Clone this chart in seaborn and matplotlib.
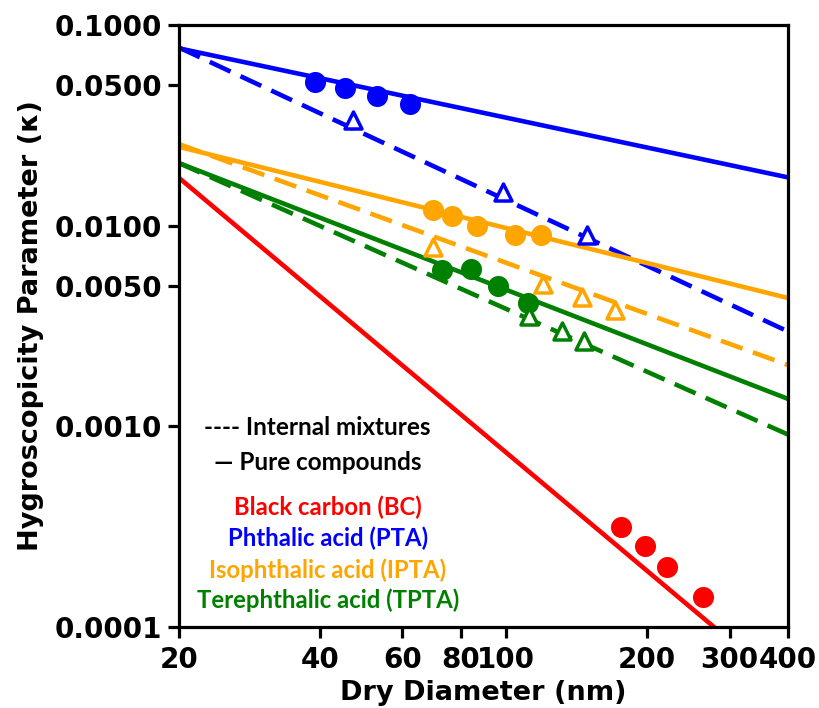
import numpy as np
import pandas as pd
import matplotlib
matplotlib.use('Agg')
import matplotlib.pyplot as plt
from matplotlib.ticker import NullLocator
import seaborn as sns

# ДАННЫЕ

# концы линий (D = 20 и 400 нм)
line_d = [20, 400]
pta_pure = [0.0765, 0.0174]
pta_mix = [0.0772, 0.00297]
ipta_pure = [0.0247, 0.00436]
ipta_mix = [0.0255, 0.00202]
tpta_pure = [0.0205, 0.00137]
tpta_mix = [0.0205, 0.00091]
bc_pure = [0.0173, 0.000049]

# точки: чистые вещества (кружки)
pta_d = [39.0, 45.3, 53.0, 62.3]
pta_k = [0.052, 0.0486, 0.0443, 0.0404]
ipta_d = [69.8, 76.6, 86.7, 104.5, 118.7]
ipta_k = [0.0120, 0.0112, 0.0100, 0.0090, 0.0090]
tpta_d = [72.9, 84.1, 96.1, 111.4]
tpta_k = [0.0060, 0.0061, 0.0050, 0.0041]
bc_d = [176, 198, 221, 263]
bc_k = [0.000315, 0.000254, 0.000199, 0.000141]

# точки: внутренние смеси (треугольники)
pta_mix_d = [47.1, 98.5, 148.9]
pta_mix_k = [0.0336, 0.0147, 0.0090]
ipta_mix_d = [69.8, 120.0, 145.2, 170.9]
ipta_mix_k = [0.0078, 0.0051, 0.0044, 0.0038]
tpta_mix_d = [111.9, 131.6, 146.7]
tpta_mix_k = [0.00355, 0.00299, 0.00266]

x_ticks = [20, 40, 60, 80, 100, 200, 300, 400]
y_ticks = [0.0001, 0.001, 0.005, 0.01, 0.05, 0.1]
y_labels = ['0.0001', '0.0010', '0.0050', '0.0100', '0.0500', '0.1000']

labels = ['Black carbon (BC)', 'Phthalic acid (PTA)',
          'Isophthalic acid (IPTA)', 'Terephthalic acid (TPTA)']
# _________________________________________________

sns.set_theme(style='ticks')
plt.rcParams['font.family'] = ['DejaVu Sans']
plt.rcParams['text.color'] = 'black'
plt.rcParams['axes.labelcolor'] = 'black'
plt.rcParams['xtick.color'] = 'black'
plt.rcParams['ytick.color'] = 'black'

RED, BLUE, ORANGE, GREEN = '#ff0000', '#0000ff', '#ffa500', '#008000'
DASH = (0, (5, 2.4))

fig = plt.figure(figsize=(8.2, 7.08), dpi=100)
ax = fig.add_axes([0.2183, 0.1144, 0.7427, 0.8503])

lines = [
    (pta_pure, BLUE, '-'), (pta_mix, BLUE, DASH),
    (ipta_pure, ORANGE, '-'), (ipta_mix, ORANGE, DASH),
    (tpta_pure, GREEN, '-'), (tpta_mix, GREEN, DASH),
    (bc_pure, RED, '-'),
]
for vals, col, ls in lines:
    sns.lineplot(x=line_d, y=vals, color=col, lw=3.3, ls=ls, ax=ax, zorder=2)

# чистые вещества - закрашенные кружки
for d, k, col in [(pta_d, pta_k, BLUE), (ipta_d, ipta_k, ORANGE),
                  (tpta_d, tpta_k, GREEN), (bc_d, bc_k, RED)]:
    sns.scatterplot(x=d, y=k, color=col, s=230, marker='o',
                    edgecolor=col, linewidth=0, ax=ax, zorder=3)

# смеси - пустые треугольники
for d, k, col in [(pta_mix_d, pta_mix_k, BLUE), (ipta_mix_d, ipta_mix_k, ORANGE),
                  (tpta_mix_d, tpta_mix_k, GREEN)]:
    sns.scatterplot(x=d, y=k, marker='^', s=150, facecolor='white',
                    edgecolor=col, linewidth=2.5, ax=ax, zorder=4)

ax.set_xscale('log')
ax.set_yscale('log')
ax.set_xlim(20, 400)
ax.set_ylim(0.0001, 0.1)
ax.set_xticks(x_ticks)
ax.set_xticklabels([str(t) for t in x_ticks])
ax.set_yticks(y_ticks)
ax.set_yticklabels(y_labels)
ax.xaxis.set_minor_locator(NullLocator())
ax.yaxis.set_minor_locator(NullLocator())

for s in ax.spines.values():
    s.set_linewidth(2.3)
    s.set_color('black')
ax.tick_params(axis='both', length=8, width=2.3, color='black',
               labelcolor='black', labelsize=20, pad=4)
ax.tick_params(axis='x', pad=6)
for t in ax.get_xticklabels() + ax.get_yticklabels():
    t.set_fontweight('bold')

ax.set_xlabel('Dry Diameter (nm)', fontsize=19.5, fontweight='bold', labelpad=4)
ax.set_ylabel('Hygroscopicity Parameter (\u03ba)', fontsize=19.5,
              fontweight='bold', labelpad=8)

note_font = ['Lato', 'DejaVu Sans']
ax.text(0.2274, 0.3306, '---- Internal mixtures', transform=ax.transAxes,
        ha='center', va='center', fontsize=17.5, fontweight='bold',
        family=note_font, color='black')
ax.text(0.2274, 0.274, '\u2014 Pure compounds', transform=ax.transAxes,
        ha='center', va='center', fontsize=17.5, fontweight='bold',
        family=note_font, color='black')
for lab, col, yy in zip(labels, [RED, BLUE, ORANGE, GREEN],
                        [0.199, 0.148, 0.0947, 0.0449]):
    ax.text(0.2447, yy, lab, transform=ax.transAxes, ha='center', va='center',
            fontsize=17.2, fontweight='bold', family=note_font, color=col)

fig.savefig('out.png', dpi=100)
